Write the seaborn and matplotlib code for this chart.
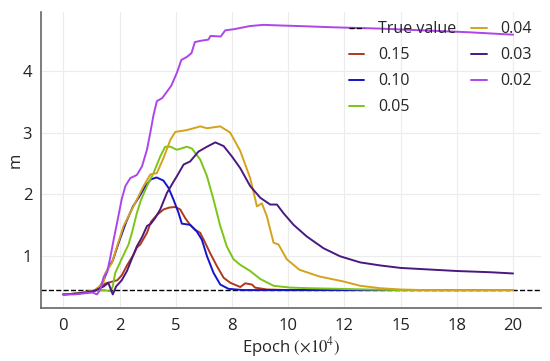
import numpy as np
import pandas as pd

import seaborn as sns
import matplotlib.pyplot as plt

# values (epoch in units of 1e4)
true_value = 0.44

x_015 = [0, 0.5, 1.0, 1.4, 1.65, 1.9, 2.1, 2.4, 2.6, 2.83, 3.13, 3.27, 3.42, 3.72, 3.9, 4.16, 4.46, 4.7, 4.98,
         5.2, 5.42, 5.64, 5.87, 6.09, 6.24, 6.53, 6.83, 7.13, 7.42, 7.87, 8.09, 8.39, 8.53, 9.05, 10, 12, 14, 16, 18, 20]
y_015 = [0.37, 0.38, 0.40, 0.43, 0.50, 0.55, 0.57, 0.60, 0.68, 0.84, 1.02, 1.13, 1.18, 1.37, 1.55, 1.66, 1.75, 1.78,
         1.79, 1.75, 1.61, 1.50, 1.42, 1.37, 1.26, 1.04, 0.83, 0.64, 0.56, 0.49, 0.55, 0.53, 0.48, 0.45, 0.44, 0.44,
         0.44, 0.44, 0.44, 0.44]

x_010 = [0, 0.5, 1.0, 1.4, 1.6, 1.8, 2.0, 2.2, 2.5, 2.8, 3.1, 3.35, 3.65, 3.9, 4.15, 4.45, 4.68, 4.9, 5.12, 5.27,
         5.64, 5.94, 6.16, 6.39, 6.68, 6.98, 7.35, 8, 10, 12, 14, 16, 18, 20]
y_010 = [0.37, 0.38, 0.40, 0.43, 0.48, 0.60, 0.80, 0.92, 1.25, 1.55, 1.80, 1.94, 2.13, 2.24, 2.27, 2.22, 2.10, 1.91,
         1.70, 1.52, 1.50, 1.39, 1.26, 0.99, 0.72, 0.53, 0.46, 0.44, 0.44, 0.44, 0.44, 0.44, 0.44, 0.44]

x_005 = [0, 0.5, 1.0, 1.4, 1.8, 2.1, 2.2, 2.31, 2.6, 2.9, 3.05, 3.27, 3.45, 3.72, 4.01, 4.31, 4.53, 4.76, 5.05,
         5.5, 5.72, 6.09, 6.39, 6.68, 6.98, 7.27, 7.57, 7.87, 8.31, 8.76, 9.35, 10.1, 11, 12.3, 13.5, 15, 16, 18, 20]
y_005 = [0.37, 0.38, 0.40, 0.43, 0.44, 0.42, 0.50, 0.72, 0.95, 1.18, 1.37, 1.69, 1.90, 2.13, 2.34, 2.61, 2.77, 2.77,
         2.72, 2.77, 2.74, 2.56, 2.29, 1.91, 1.48, 1.15, 0.94, 0.85, 0.75, 0.62, 0.51, 0.48, 0.47, 0.46, 0.45, 0.44,
         0.44, 0.44, 0.44]

x_004 = [0, 0.5, 1.0, 1.4, 1.6, 1.79, 1.87, 2.16, 2.39, 2.68, 2.98, 3.27, 3.57, 3.87, 4.16, 4.46, 4.76, 4.98, 5.5,
         6.09, 6.39, 6.98, 7.42, 7.87, 8.31, 8.61, 8.83, 9.05, 9.35, 9.57, 9.94, 10.5, 11.4, 12.46, 13.2, 14.1, 15,
         16, 18, 20]
y_004 = [0.37, 0.38, 0.41, 0.44, 0.50, 0.56, 0.72, 0.88, 1.15, 1.48, 1.70, 1.91, 2.13, 2.32, 2.34, 2.59, 2.88, 3.01,
         3.04, 3.10, 3.07, 3.10, 3.00, 2.70, 2.26, 1.80, 1.85, 1.64, 1.21, 1.18, 0.94, 0.77, 0.66, 0.58, 0.51, 0.47,
         0.45, 0.44, 0.44, 0.44]

x_003 = [0, 0.5, 1.0, 1.4, 1.8, 2.0, 2.2, 2.35, 2.6, 2.83, 3.05, 3.27, 3.5, 3.72, 3.9, 4.1, 4.31, 4.61, 4.9, 5.05,
         5.35, 5.64, 6.01, 6.39, 6.76, 7.13, 7.5, 7.87, 8.31, 8.76, 9.2, 9.5, 9.79, 10.24, 10.83, 11.57, 12.3, 13.2,
         14.1, 15, 16.5, 17.5, 19, 20]
y_003 = [0.37, 0.38, 0.40, 0.43, 0.50, 0.56, 0.37, 0.50, 0.60, 0.75, 0.95, 1.15, 1.30, 1.48, 1.52, 1.62, 1.75, 2.02,
         2.20, 2.29, 2.48, 2.53, 2.69, 2.77, 2.84, 2.78, 2.61, 2.42, 2.13, 1.94, 1.83, 1.83, 1.69, 1.50, 1.31, 1.12,
         0.99, 0.89, 0.84, 0.80, 0.77, 0.75, 0.73, 0.71]

x_002 = [0, 0.5, 1.0, 1.3, 1.5, 1.65, 1.8, 1.95, 2.1, 2.25, 2.4, 2.6, 2.76, 2.98, 3.27, 3.5, 3.72, 3.87, 4.01, 4.16,
         4.4, 4.6, 4.8, 5.05, 5.25, 5.5, 5.7, 5.85, 6.1, 6.45, 6.55, 7.0, 7.2, 7.6, 8.3, 8.9, 9.6, 10.5, 12, 14, 16,
         18, 20]
y_002 = [0.37, 0.37, 0.39, 0.40, 0.37, 0.45, 0.66, 0.73, 0.99, 1.28, 1.55, 1.92, 2.13, 2.26, 2.31, 2.45, 2.72, 3.00,
         3.28, 3.51, 3.56, 3.66, 3.76, 3.97, 4.18, 4.23, 4.29, 4.47, 4.49, 4.51, 4.57, 4.56, 4.66, 4.68, 4.73, 4.75,
         4.74, 4.73, 4.71, 4.69, 4.66, 4.63, 4.59]

labels = ["0.15", "0.10", "0.05", "0.04", "0.03", "0.02"]
xs = [x_015, x_010, x_005, x_004, x_003, x_002]
ys = [y_015, y_010, y_005, y_004, y_003, y_002]
colors = ["#b0391c", "#1414cc", "#7cc516", "#d4a21c", "#4a1880", "#ad45ec"]

sns.set_style("whitegrid")
plt.rcParams["font.family"] = ["Open Sans", "DejaVu Sans"]
plt.rcParams["mathtext.fontset"] = "stix"

fig = plt.figure(figsize=(5.5, 3.61), dpi=100)
ax = fig.add_axes([0.075, 0.147, 0.909, 0.82])

ax.axhline(true_value, color="black", ls="--", lw=1.0, label="True value", zorder=1)
for lab, x, y, c in zip(labels, xs, ys, colors):
    df = pd.DataFrame({"epoch": x, "m": y})
    sns.lineplot(data=df, x="epoch", y="m", color=c, lw=1.4, label=lab, estimator=None, ax=ax)

ax.set_xlim(-0.98, 21.25)
ax.set_ylim(0.15, 4.96)
ticks = np.arange(0, 20.1, 2.5)
ax.set_xticks(ticks)
ax.set_xticklabels(["{:.0f}".format(t) for t in ticks])
ax.set_yticks([1, 2, 3, 4])
ax.tick_params(labelsize=12, colors="#222222", length=3, color="#666666", width=1)
ax.tick_params(axis="x", pad=4)
ax.set_xlabel(r"Epoch $(\times 10^4)$", fontsize=12, labelpad=1)
ax.set_ylabel("m", fontsize=12, labelpad=-1)

ax.grid(color="#ececec", lw=0.8)
for s in ["top", "right"]:
    ax.spines[s].set_visible(False)
for s in ["left", "bottom"]:
    ax.spines[s].set_color("#666666")
    ax.spines[s].set_linewidth(1.2)

ax.legend(ncol=2, loc="upper right", frameon=False, fontsize=11.5, handlelength=0.95,
          handletextpad=0.85, columnspacing=0.95, labelspacing=0.62, borderaxespad=0.2,
          bbox_to_anchor=(1.0, 1.0))

fig.savefig("out.png", dpi=100)
